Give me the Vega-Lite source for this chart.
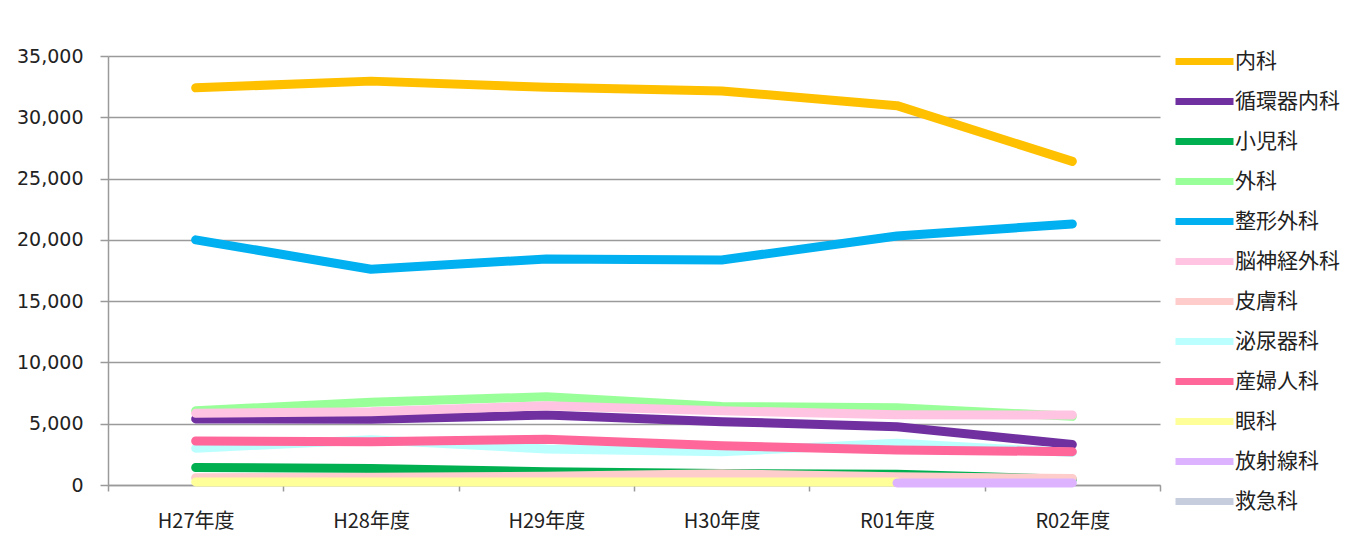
{
  "$schema": "https://vega.github.io/schema/vega-lite/v6.json",
  "autosize": {"type": "none"},
  "padding": {"left": 108, "top": 56, "right": 194, "bottom": 50},
  "width": 1052,
  "height": 429,
  "background": "white",
  "data": {
    "values": [
      {"dept": "内科", "year": "H27年度", "value": 32400},
      {"dept": "内科", "year": "H28年度", "value": 32950},
      {"dept": "内科", "year": "H29年度", "value": 32450},
      {"dept": "内科", "year": "H30年度", "value": 32150},
      {"dept": "内科", "year": "R01年度", "value": 30950},
      {"dept": "内科", "year": "R02年度", "value": 26400},
      {"dept": "循環器内科", "year": "H27年度", "value": 5390},
      {"dept": "循環器内科", "year": "H28年度", "value": 5360},
      {"dept": "循環器内科", "year": "H29年度", "value": 5710},
      {"dept": "循環器内科", "year": "H30年度", "value": 5170},
      {"dept": "循環器内科", "year": "R01年度", "value": 4760},
      {"dept": "循環器内科", "year": "R02年度", "value": 3300},
      {"dept": "小児科", "year": "H27年度", "value": 1430},
      {"dept": "小児科", "year": "H28年度", "value": 1350},
      {"dept": "小児科", "year": "H29年度", "value": 1080},
      {"dept": "小児科", "year": "H30年度", "value": 940},
      {"dept": "小児科", "year": "R01年度", "value": 880},
      {"dept": "小児科", "year": "R02年度", "value": 450},
      {"dept": "外科", "year": "H27年度", "value": 6050},
      {"dept": "外科", "year": "H28年度", "value": 6760},
      {"dept": "外科", "year": "H29年度", "value": 7200},
      {"dept": "外科", "year": "H30年度", "value": 6400},
      {"dept": "外科", "year": "R01年度", "value": 6300},
      {"dept": "外科", "year": "R02年度", "value": 5600},
      {"dept": "整形外科", "year": "H27年度", "value": 20000},
      {"dept": "整形外科", "year": "H28年度", "value": 17600},
      {"dept": "整形外科", "year": "H29年度", "value": 18440},
      {"dept": "整形外科", "year": "H30年度", "value": 18360},
      {"dept": "整形外科", "year": "R01年度", "value": 20320},
      {"dept": "整形外科", "year": "R02年度", "value": 21300},
      {"dept": "脳神経外科", "year": "H27年度", "value": 5850},
      {"dept": "脳神経外科", "year": "H28年度", "value": 5980},
      {"dept": "脳神経外科", "year": "H29年度", "value": 6470},
      {"dept": "脳神経外科", "year": "H30年度", "value": 6060},
      {"dept": "脳神経外科", "year": "R01年度", "value": 5740},
      {"dept": "脳神経外科", "year": "R02年度", "value": 5710},
      {"dept": "皮膚科", "year": "H27年度", "value": 590},
      {"dept": "皮膚科", "year": "H28年度", "value": 640},
      {"dept": "皮膚科", "year": "H29年度", "value": 720},
      {"dept": "皮膚科", "year": "H30年度", "value": 910},
      {"dept": "皮膚科", "year": "R01年度", "value": 670},
      {"dept": "皮膚科", "year": "R02年度", "value": 530},
      {"dept": "泌尿器科", "year": "H27年度", "value": 3000},
      {"dept": "泌尿器科", "year": "H28年度", "value": 3700},
      {"dept": "泌尿器科", "year": "H29年度", "value": 2940},
      {"dept": "泌尿器科", "year": "H30年度", "value": 2720},
      {"dept": "泌尿器科", "year": "R01年度", "value": 3400},
      {"dept": "泌尿器科", "year": "R02年度", "value": 2650},
      {"dept": "産婦人科", "year": "H27年度", "value": 3590},
      {"dept": "産婦人科", "year": "H28年度", "value": 3530},
      {"dept": "産婦人科", "year": "H29年度", "value": 3730},
      {"dept": "産婦人科", "year": "H30年度", "value": 3210},
      {"dept": "産婦人科", "year": "R01年度", "value": 2860},
      {"dept": "産婦人科", "year": "R02年度", "value": 2720},
      {"dept": "眼科", "year": "H27年度", "value": 250},
      {"dept": "眼科", "year": "H28年度", "value": 250},
      {"dept": "眼科", "year": "H29年度", "value": 250},
      {"dept": "眼科", "year": "H30年度", "value": 250},
      {"dept": "眼科", "year": "R01年度", "value": 250},
      {"dept": "放射線科", "year": "R01年度", "value": 170},
      {"dept": "放射線科", "year": "R02年度", "value": 170}
    ]
  },
  "mark": {"type": "line", "strokeWidth": 9, "strokeCap": "round", "strokeJoin": "round", "clip": false},
  "encoding": {
    "x": {
      "field": "year",
      "type": "ordinal",
      "sort": ["H27年度", "H28年度", "H29年度", "H30年度", "R01年度", "R02年度"],
      "scale": {"paddingInner": 0, "paddingOuter": 0},
      "axis": {
        "title": null,
        "tickBand": "extent",
        "labelAngle": 0,
        "tickSize": 6,
        "tickColor": "#9a9a9a",
        "domainColor": "#9a9a9a",
        "domainWidth": 1.5,
        "tickWidth": 1.5,
        "labelPadding": 20,
        "labelFont": "Noto Sans CJK JP",
        "labelFontSize": 20,
        "labelColor": "#222222"
      }
    },
    "y": {
      "field": "value",
      "type": "quantitative",
      "scale": {"domain": [0, 35000], "nice": false},
      "axis": {
        "title": null,
        "values": [0, 5000, 10000, 15000, 20000, 25000, 30000, 35000],
        "format": ",.0f",
        "tickSize": 8,
        "labelPadding": 17,
        "tickColor": "#9a9a9a",
        "domainColor": "#9a9a9a",
        "gridColor": "#9a9a9a",
        "gridWidth": 1.3,
        "domainWidth": 1.5,
        "tickWidth": 1.5,
        "labelFont": "DejaVu Sans",
        "labelFontSize": 19,
        "labelColor": "#222222"
      }
    },
    "color": {
      "field": "dept",
      "type": "nominal",
      "sort": null,
      "scale": {
        "domain": ["内科", "循環器内科", "小児科", "外科", "整形外科", "脳神経外科", "皮膚科", "泌尿器科", "産婦人科", "眼科", "放射線科", "救急科"],
        "range": ["#FFC000", "#7030A0", "#00B050", "#99FF99", "#00B0F0", "#FFC4E1", "#FFCCCC", "#BBFFFF", "#FF6699", "#FFFF99", "#DDB3FF", "#C6CEDE"]
      },
      "legend": {
        "title": null,
        "orient": "none",
        "legendX": 1062,
        "legendY": -5,
        "padding": 0,
        "symbolType": "M-1,0H10.6",
        "symbolSize": 100,
        "symbolStrokeWidth": 7,
        "rowPadding": 11,
        "labelOffset": 44,
        "labelFont": "Noto Sans CJK JP",
        "labelFontSize": 21,
        "labelColor": "#222222",
        "labelLimit": 200
      }
    },
    "order": {"field": "year"}
  },
  "config": {
    "view": {"stroke": null},
    "axisY": {"grid": true},
    "axisX": {"grid": false}
  }
}
